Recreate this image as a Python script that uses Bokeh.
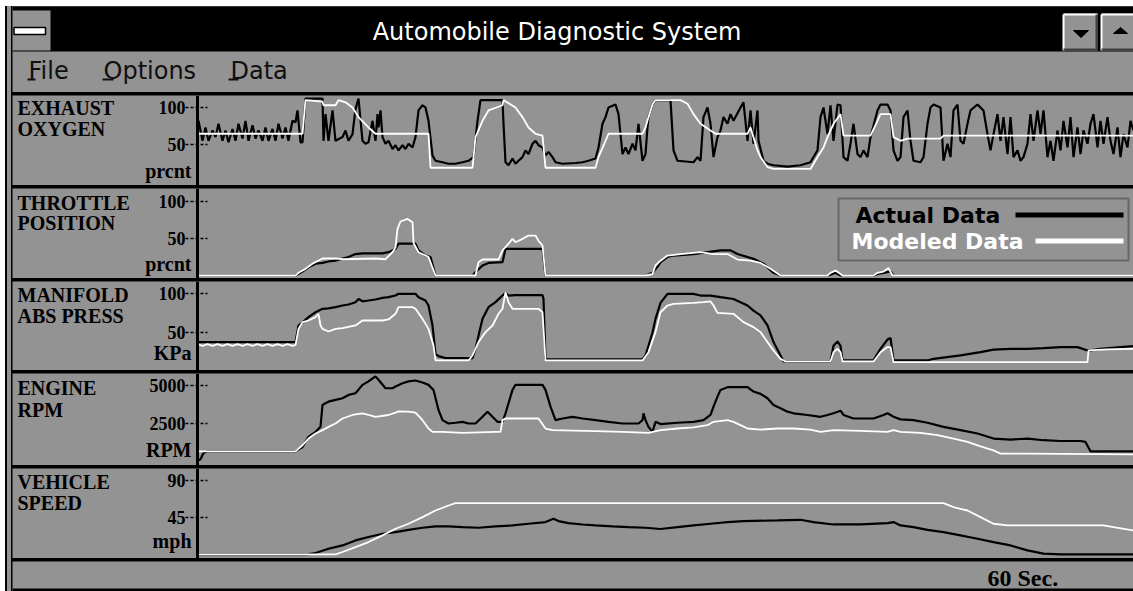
from bokeh.plotting import figure
from bokeh.models import Range1d, Span, BoxAnnotation, Spacer
from bokeh.layouts import column, row
from bokeh.embed import file_html
from bokeh.resources import INLINE
from bokeh.core.properties import value

# ---------------- data (time in samples, values in panel units) ----------------
T_MAX = 936

EXH_ACT = [(0,64),(1,82),(5,55),(8,73),(11,55),(15,69),(18,60),(21,78),(25,55),(28,69),(31,53),(35,71),(38,55),(41,78),(45,58),(48,82),(51,55),(55,76),(58,58),(61,69),(65,55),(68,73),(71,55),(75,71),(78,55),(81,78),(85,58),(88,73),(91,55),(95,82),(98,80),(100,96),(103,53),(105,53),(108,112),(125,112),(126,55),(128,91),(131,55),(135,96),(138,55),(145,60),(148,69),(151,55),(155,64),(158,98),(161,112),(165,55),(168,51),(171,53),(175,82),(178,55),(180,91),(181,73),(183,96),(185,60),(188,51),(191,55),(195,44),(198,49),(201,42),(205,49),(208,44),(211,51),(215,46),(218,60),(221,96),(225,103),(228,100),(231,82),(235,35),(238,28),(245,26),(251,24),(258,24),(265,26),(271,28),(276,33),(280,82),(283,110),(305,110),(306,78),(308,26),(311,22),(315,31),(318,24),(321,28),(325,33),(328,42),(331,37),(335,51),(338,55),(341,49),(345,46),(348,35),(351,40),(355,33),(358,26),(365,24),(378,25),(385,26),(391,28),(398,31),(401,46),(405,78),(408,87),(411,100),(418,104),(421,91),(425,37),(428,46),(431,37),(435,51),(438,42),(441,78),(445,28),(448,37),(450,73),(451,87),(455,104),(458,110),(473,110),(476,42),(480,28),(496,26),(500,33),(503,28),(506,87),(510,100),(513,78),(516,33),(520,60),(523,69),(526,87),(530,78),(533,91),(536,82),(543,100),(546,107),(550,55),(553,96),(556,51),(560,96),(561,55),(566,28),(570,24),(576,22),(590,20),(603,22),(613,26),(620,42),(623,87),(626,100),(630,64),(633,103),(636,55),(640,104),(643,103),(646,33),(650,28),(653,51),(656,78),(660,37),(663,33),(666,42),(670,33),(673,60),(680,96),(683,104),(690,104),(693,96),(696,42),(700,28),(703,33),(706,87),(710,96),(713,55),(716,28),(723,26),(726,33),(730,78),(733,100),(736,104),(743,100),(746,28),(750,51),(753,33),(756,96),(760,104),(763,55),(766,51),(770,78),(773,96),(780,104),(786,96),(790,64),(793,42),(796,64),(800,91),(803,55),(806,87),(810,37),(813,87),(816,33),(820,42),(823,28),(826,33),(830,51),(833,91),(836,55),(840,96),(843,64),(846,96),(850,33),(853,55),(856,28),(860,69),(863,42),(866,82),(870,46),(873,87),(876,33),(880,73),(883,37),(886,69),(890,51),(893,78),(896,91),(900,46),(903,82),(906,51),(910,87),(913,55),(916,37),(920,73),(923,33),(926,64),(930,46),(933,82),(936,69)]
EXH_MOD = [(0,64.5),(105,64.5),(108,110),(125,108),(126,103),(138,103),(141,110),(148,107),(155,100),(161,87),(171,73),(178,64.5),(231,64.5),(233,18.6),(275,18.6),(278,60),(285,82),(291,96),(301,101),(305,103),(306,110),(318,100),(325,87),(331,73),(338,64.5),(345,62),(348,18.6),(398,18.6),(401,33),(408,55),(411,64.5),(445,64.5),(448,73),(451,87),(455,104),(458,110),(483,110),(490,105),(496,91),(503,78),(513,69),(518,64.5),(550,64.5),(553,73),(560,42),(563,33),(570,19.5),(576,17),(613,17),(620,33),(626,46),(630,60),(636,78),(643,91),(646,62),(673,62),(680,82),(683,91),(693,91),(696,60),(703,55),(710,58),(743,58),(746,62),(936,62)]

THR_ACT = [(0,0),(98,0),(105,5.4),(111,11),(118,16),(125,17),(131,19),(138,20),(145,23),(151,25),(158,29),(165,30),(185,30),(191,31.5),(198,36),(201,43),(218,43),(221,34),(228,27),(233,25),(238,0),(275,0),(278,4.5),(285,13.5),(291,17),(305,18),(308,36),(345,36),(348,0),(448,0),(455,3.6),(461,13.5),(463,18),(470,25),(476,27),(496,29),(510,31.5),(523,34),(533,34),(540,29),(556,22.5),(566,16),(576,3.6),(583,0),(630,0),(633,1),(638,3.6),(643,0),(676,0),(680,2),(686,3.6),(693,5.4),(696,0),(936,0)]
THR_MOD = [(0,0),(98,0),(101,3.6),(108,9),(115,16),(125,23),(138,23),(145,22),(178,23),(188,22),(195,31.5),(198,38),(200,63),(203,73),(210,76.5),(215,72),(216,44),(221,31.5),(228,27),(231,25),(238,0),(278,0),(281,18),(285,21.6),(301,21.6),(305,34),(311,43),(315,49.5),(318,45),(325,49.5),(331,54),(338,54),(341,47),(345,40.5),(348,0),(448,0),(455,2),(458,13.5),(463,20),(470,27),(483,29),(503,31.5),(516,29),(530,29),(540,21.6),(553,20),(563,17),(573,9),(583,0),(630,0),(633,3.6),(638,6.8),(643,2),(645,0),(676,0),(680,3.6),(686,5.4),(691,10),(695,0),(936,0)]

MAN_ACT = [(0,37.7),(98,37.7),(101,59),(105,63),(111,69.7),(118,76),(125,80.4),(131,81),(138,82.5),(145,84.6),(151,85.9),(158,88.9),(161,93),(165,90),(171,91),(178,92.3),(185,94.4),(191,95.3),(198,97.4),(201,99.6),(218,99.6),(221,95.3),(228,91),(231,84.6),(235,59),(238,22.7),(241,19.7),(248,17.2),(275,17.2),(278,29),(281,46),(285,67.5),(291,82.5),(298,89),(305,97.4),(308,101),(311,97.4),(318,98),(345,98),(346,93),(348,16.3),(351,15.5),(445,15.5),(448,20.6),(451,33),(455,50),(458,67.5),(463,88),(470,99.6),(496,99.6),(503,97.4),(513,97.4),(523,95.3),(536,93),(550,84.6),(556,78),(563,72),(570,59),(576,37.7),(583,20.6),(586,12.9),(633,12.9),(636,33),(640,38.5),(643,33),(645,14.2),(676,14.2),(683,29),(690,41),(693,43),(696,14.2),(730,14.2),(736,16.3),(763,20.6),(783,24.8),(796,28),(813,29),(830,29),(846,30),(863,31.3),(880,31.3),(890,27),(893,27),(903,29),(923,31.3),(936,32.5)]
MAN_MOD = [(0,35),(5,33),(10,35),(15,33),(20,35),(25,33),(30,35),(35,33),(40,35),(45,33),(50,35),(55,33),(60,35),(65,33),(70,35),(75,33),(80,35),(85,33),(90,35),(95,33),(98,34),(101,54.7),(105,63.3),(111,65.4),(118,69.7),(121,74),(123,59),(125,54.7),(131,51.3),(138,54.7),(145,55.6),(158,59),(165,65.4),(185,65.4),(191,66.7),(198,74),(201,82.5),(215,82.5),(218,80.4),(225,67.5),(231,54.7),(236,33.4),(238,14.2),(271,14.2),(275,20.6),(281,37.7),(288,50.5),(295,59),(301,74),(305,80.4),(308,101.7),(311,88.9),(315,80.4),(341,80.4),(345,76),(348,14.2),(445,14.2),(451,24.8),(458,50.5),(463,76),(470,84.6),(476,86.8),(496,88),(506,88.9),(513,89.8),(516,84.6),(520,75.2),(536,74),(546,63.3),(556,56.9),(563,50.5),(570,37.7),(576,27),(583,16.3),(588,12.9),(633,12.9),(636,24.8),(640,29.1),(643,24.8),(645,12.9),(676,12.9),(683,24.8),(690,31.3),(693,31.3),(696,12),(890,12),(891,27),(910,28.3),(936,29.1)]

RPM_ACT = [(0,50),(3,150),(6,560),(10,670),(98,670),(105,955),(111,1620),(118,1950),(123,2280),(125,3720),(128,3830),(131,3940),(138,4050),(145,4160),(151,4380),(158,4490),(165,5040),(171,5270),(178,5600),(181,5380),(188,4820),(195,4820),(198,4930),(205,5150),(211,5270),(218,5330),(225,5200),(231,5040),(236,4710),(241,3390),(245,2720),(251,2500),(258,2550),(265,2610),(271,2500),(278,2500),(285,2940),(290,3280),(295,2940),(300,2610),(305,2610),(308,3170),(315,4710),(318,5040),(345,5040),(348,4710),(353,3610),(358,2720),(365,2830),(375,2940),(385,2830),(398,2720),(411,2610),(425,2500),(441,2500),(445,2720),(446,3170),(448,2720),(451,2280),(455,1950),(458,2610),(463,2460),(480,2550),(496,2610),(506,2720),(513,3060),(516,3610),(520,4270),(523,4710),(530,4890),(550,4890),(556,4600),(563,4450),(570,4160),(576,3720),(583,3500),(590,3280),(596,3170),(610,3060),(623,2940),(630,3060),(636,3170),(643,3340),(646,3060),(656,2830),(676,2830),(686,3060),(690,3170),(696,2940),(703,2770),(716,2720),(730,2550),(746,2280),(763,2060),(780,1840),(796,1510),(813,1440),(830,1510),(846,1400),(863,1350),(883,1350),(888,1290),(893,670),(936,670)]
RPM_MOD = [(0,670),(98,670),(105,1070),(111,1510),(118,1840),(125,2060),(131,2280),(138,2500),(145,2830),(155,3060),(165,3170),(171,3060),(178,2940),(191,3060),(198,3210),(201,3300),(211,3280),(218,3210),(225,2720),(231,2170),(235,1950),(245,1950),(265,1880),(298,1950),(303,1950),(305,2720),(308,2830),(341,2830),(348,2170),(355,2060),(398,2000),(425,1950),(451,1880),(463,2060),(480,2170),(496,2240),(510,2390),(516,2610),(530,2720),(536,2610),(543,2390),(550,2170),(563,2100),(580,2170),(596,2170),(613,2100),(623,1950),(636,2060),(663,2020),(690,1950),(696,2060),(703,1950),(723,1880),(740,1730),(756,1510),(770,1290),(783,1000),(796,735),(803,520),(830,520),(936,470)]

SPD_ACT = [(0,0),(108,0),(111,0.5),(118,1.7),(131,7),(145,11),(158,17.1),(171,21.2),(185,25.2),(198,27.2),(211,30),(225,32.5),(238,34.1),(251,34.1),(265,33.3),(281,32.5),(298,34.1),(315,35.3),(331,37.4),(348,39.4),(356,43.4),(361,40.6),(371,38.2),(385,36.5),(398,35.3),(415,34.1),(431,33.3),(448,32.5),(463,31),(480,33.3),(496,35.3),(513,37.4),(530,39.4),(546,40.6),(580,41.4),(603,42.2),(616,39.4),(636,36.5),(663,36.5),(690,38.2),(696,39.4),(703,35.3),(716,33.3),(730,30),(746,27.2),(763,23.2),(780,19.1),(796,15.1),(813,11),(830,5),(846,1),(863,0),(936,0)]
SPD_MOD = [(0,0),(138,0),(145,3),(158,9),(171,15.1),(185,23.2),(198,31.3),(211,37.4),(225,45.5),(238,53.5),(251,59.6),(258,62.5),(746,62.5),(756,57.6),(770,53.5),(783,45.5),(796,37.4),(810,35.3),(906,35.3),(916,33.3),(936,29.3)]

PANEL_NAMES = [("EXHAUST", "OXYGEN"), ("THROTTLE", "POSITION"), ("MANIFOLD", "ABS  PRESS"),
               ("ENGINE", "RPM"), ("VEHICLE", "SPEED")]
PANEL_UNITS = ["prcnt", "prcnt", "KPa", "RPM", "mph"]
PANEL_TICKS = [[50, 100], [50, 100], [50, 100], [2500, 5000], [45, 90]]
PANEL_TICK_LABELS = [["50", "100"], ["50", "100"], ["50", "100"], ["2500", "5000"], ["45", "90"]]
PANEL_SERIES = [(EXH_ACT, EXH_MOD), (THR_ACT, THR_MOD), (MAN_ACT, MAN_MOD),
                (RPM_ACT, RPM_MOD), (SPD_ACT, SPD_MOD)]
PANEL_RANGES = [(-5.4, 116.2), (-4.05, 117.6), (1.3, 115.4), (-263, 5789), (-4.9, 104.6)]
LEGEND_LABELS = ["Actual Data", "Modeled Data"]
STATUS_TEXT = "60 Sec."
TITLE = "Automobile Diagnostic System"
MENU = ["File", "Options", "Data"]

# ---------------- layout / style ----------------
GRAY = "#939393"
COL_W = 1121          # content width (page x 12 .. 1133)
LBL_W = 185           # label strip left of the value axis (data x < 0)
PANEL_H = [90, 90, 89, 92, 90]
NAME_OFF = [(12.5, 33.5), (14.5, 34.5), (13.5, 34.5), (14.5, 36.5), (13.5, 34.5)]
UNIT_OFF = [75.5, 75, 71.5, 76, 72]
SERIF = "Liberation Serif"
SANS = "DejaVu Sans"


def val_at(rng, h, px):
    lo, hi = rng
    return hi - px * (hi - lo) / h


def chrome_fig(h):
    f = figure(width=COL_W, height=h, x_range=Range1d(0, COL_W), y_range=Range1d(h, 0),
               output_backend="svg", toolbar_location=None, x_axis_location=None,
               y_axis_location=None, min_border=0, background_fill_color=GRAY,
               border_fill_color=GRAY, outline_line_color=None)
    f.grid.visible = False
    return f


# header (title bar + menu)
hdr = chrome_fig(86)
hdr.quad(left=[0], right=[COL_W], top=[0], bottom=[45], fill_color="black", line_color=None)
hdr.quad(left=[0], right=[38], top=[4], bottom=[44], fill_color=GRAY, line_color=None)
hdr.quad(left=[1.5], right=[33], top=[21], bottom=[28], fill_color="white", line_color="black", line_width=1.5)
for l, r in [(1051, 1085), (1089, 1125)]:
    hdr.quad(left=[l], right=[r], top=[7], bottom=[44], fill_color=GRAY, line_color=None)
    hdr.segment(x0=[l, l], y0=[8, 8], x1=[r, l], y1=[8, 44], line_color="white", line_width=2)
    hdr.segment(x0=[l, r - 1], y0=[43, 8], x1=[r, r - 1], y1=[43, 44], line_color="#404040", line_width=2)
hdr.patch([1061, 1076, 1068.5], [24, 24, 31], fill_color="black", line_color="black")
hdr.patch([1101, 1115, 1108], [27, 27, 21], fill_color="black", line_color="black")
hdr.text(x=[544.5], y=[25], text=[TITLE], text_color="white",
         text_font=value(SANS), text_font_size="24px", text_align="center", text_baseline="middle")
hdr.text(x=[16, 91, 218], y=[64.5, 64.5, 64.5], text=MENU, text_color="#101010",
         text_font=value(SANS), text_font_size="24px", text_align="left", text_baseline="middle")
hdr.segment(x0=[15, 90, 216], y0=[73, 73, 73], x1=[23, 101, 226], y1=[73, 73, 73],
            line_color="#101010", line_width=2)

panels = []
for i in range(5):
    h = PANEL_H[i]
    rng = PANEL_RANGES[i]
    p = figure(width=COL_W, height=h, x_range=Range1d(-LBL_W, T_MAX), y_range=Range1d(*rng),
               output_backend="svg", toolbar_location=None, x_axis_location=None,
               y_axis_location=None, min_border=0, background_fill_color=GRAY,
               border_fill_color=GRAY, outline_line_color=None)
    p.grid.visible = False

    act, mod = PANEL_SERIES[i]
    p.line([a for a, b in act], [b for a, b in act], line_color="black", line_width=2.2)
    p.line([a for a, b in mod], [b for a, b in mod], line_color="white", line_width=1.8)

    # value axis: line, dashed ticks and tick labels placed through the panel scale
    p.add_layout(Span(location=0, dimension="height", line_color="black", line_width=3))
    ticks = PANEL_TICKS[i]
    p.segment(x0=[-12] * len(ticks), y0=ticks, x1=[10] * len(ticks), y1=ticks,
              line_color="black", line_width=1.5, line_dash="3 2")
    p.text(x=[-12] * len(ticks), y=ticks, text=PANEL_TICK_LABELS[i], text_color="black",
           text_font=value(SERIF), text_font_style="bold", text_font_size="18px",
           text_align="right", text_baseline="middle")

    l1, l2 = PANEL_NAMES[i]
    o1, o2 = NAME_OFF[i]
    p.text(x=[-180, -180], y=[val_at(rng, h, o1), val_at(rng, h, o2)], text=[l1, l2],
           text_color="black", text_font=value(SERIF), text_font_style="bold",
           text_font_size="20px", text_align="left", text_baseline="middle")
    p.text(x=[-6], y=[val_at(rng, h, UNIT_OFF[i])], text=[PANEL_UNITS[i]], text_color="black",
           text_font=value(SERIF), text_font_style="bold", text_font_size="20px",
           text_align="right", text_baseline="middle")

    if i == 1:
        p.add_layout(BoxAnnotation(left=641, right=931, top=val_at(rng, h, 10),
                                   bottom=val_at(rng, h, 72), fill_alpha=0, line_color="black",
                                   line_width=2))
        ya, ym = val_at(rng, h, 26.5), val_at(rng, h, 52.5)
        p.text(x=[658], y=[ya], text=[LEGEND_LABELS[0]], text_color="black",
               text_font=value(SANS), text_font_style="bold", text_font_size="22px",
               text_align="left", text_baseline="middle")
        p.text(x=[654], y=[ym], text=[LEGEND_LABELS[1]], text_color="white",
               text_font=value(SANS), text_font_style="bold", text_font_size="22px",
               text_align="left", text_baseline="middle")
        p.segment(x0=[818], y0=[ya], x1=[926], y1=[ya], line_color="black", line_width=5)
        p.segment(x0=[838], y0=[ym], x1=[926], y1=[ym], line_color="white", line_width=5)
    panels.append(p)

# status bar
st = chrome_fig(30)
st.quad(left=[0], right=[COL_W], top=[27], bottom=[30], fill_color="black", line_color=None)
st.text(x=[975], y=[16.5], text=[STATUS_TEXT], text_color="black", text_font=value(SERIF),
        text_font_style="bold", text_font_size="24px", text_align="left", text_baseline="middle")

col = column([hdr] + panels + [st], spacing=3, styles={"background-color": "black"})
edges = [Spacer(width=5, height=585),
         Spacer(width=2, height=585, styles={"background-color": "black"}),
         Spacer(width=4, height=585, styles={"background-color": GRAY}),
         Spacer(width=1, height=585, styles={"background-color": "black"})]
root = column([Spacer(width=1133, height=6), row(edges + [col], spacing=0)], spacing=0)

open("out.html", "w").write(file_html(root, INLINE))
